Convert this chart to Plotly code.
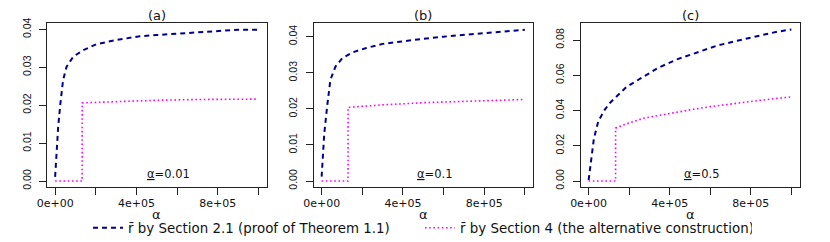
import plotly.graph_objects as go
from plotly.subplots import make_subplots

panel_titles = ["(a)", "(b)", "(c)"]
alpha_levels = ["0.01", "0.1", "0.5"]
series_names = ["r\u0304 by Section 2.1 (proof of Theorem 1.1)",
                "r\u0304 by Section 4 (the alternative construction)"]

# panel (a)
a_dash_x = [0, 7e3, 1.5e4, 2.6e4, 3.9e4, 5.6e4, 8.9e4, 1.38e5, 2.04e5, 3.02e5, 4.17e5, 5e5, 6e5, 7e5, 8e5, 9e5, 1e6]
a_dash_y = [0.0011, 0.0073, 0.0143, 0.0205, 0.0266, 0.0301, 0.0328, 0.0345, 0.0361, 0.0372, 0.0382, 0.0385, 0.0389, 0.0393, 0.0395, 0.0399, 0.0399]
a_dot_x = [0, 1.33e5, 1.33e5, 3e5, 5e5, 7e5, 1e6]
a_dot_y = [0, 0, 0.0206, 0.0210, 0.0213, 0.0215, 0.0216]

# panel (b)
b_dash_x = [0, 5e3, 1.3e4, 2.7e4, 4.3e4, 6.8e4, 1.01e5, 1.5e5, 2.16e5, 3e5, 4e5, 5e5, 6e5, 7e5, 8e5, 9e5, 1e6]
b_dash_y = [0.0012, 0.0058, 0.0132, 0.0206, 0.0280, 0.0317, 0.0340, 0.0356, 0.0368, 0.0380, 0.0388, 0.0394, 0.0400, 0.0405, 0.0409, 0.0414, 0.0419]
b_dot_x = [0, 1.3e5, 1.3e5, 3e5, 5e5, 7e5, 1e6]
b_dot_y = [0, 0, 0.0204, 0.0211, 0.0217, 0.0221, 0.0226]

# panel (c)
c_dash_x = [0, 7e3, 1.5e4, 2.6e4, 4.8e4, 8e4, 1.05e5, 1.38e5, 1.88e5, 2.62e5, 3.44e5, 4.35e5, 5.34e5, 6.33e5, 7.32e5, 8.3e5, 9.29e5, 1e6]
c_dash_y = [0.0005, 0.0065, 0.0140, 0.0240, 0.0340, 0.0405, 0.0443, 0.0480, 0.0535, 0.0586, 0.0643, 0.0690, 0.0730, 0.0768, 0.0796, 0.0823, 0.0847, 0.0860]
c_dot_x = [0, 1.33e5, 1.33e5, 1.71e5, 2.7e5, 3.52e5, 4.35e5, 5.17e5, 6e5, 6.82e5, 7.64e5, 8.47e5, 9.29e5, 1e6]
c_dot_y = [0, 0, 0.0300, 0.0318, 0.0356, 0.0374, 0.0390, 0.0407, 0.0422, 0.0435, 0.0446, 0.0458, 0.0469, 0.0477]

x_tickvals = [0, 2e5, 4e5, 6e5, 8e5, 1e6]
x_ticktext = ["0e+00", "", "4e+05", "", "8e+05", ""]
y_tickvals = [[0, 0.01, 0.02, 0.03, 0.04], [0, 0.01, 0.02, 0.03, 0.04], [0, 0.02, 0.04, 0.06, 0.08]]
y_ranges = [[-0.00145, 0.0416], [-0.00152, 0.0437], [-0.00312, 0.0895]]

dash_x = [a_dash_x, b_dash_x, c_dash_x]
dash_y = [a_dash_y, b_dash_y, c_dash_y]
dot_x = [a_dot_x, b_dot_x, c_dot_x]
dot_y = [a_dot_y, b_dot_y, c_dot_y]

W, H = 830, 242
x_domains = [[47 / W, 266.5 / W], [313.5 / W, 533 / W], [580.5 / W, 799.5 / W]]
y_domain = [1 - 186.5 / H, 1 - 23.3 / H]

navy = "#00008B"
magenta = "#FF00FF"
FONT = "DejaVu Sans"

fig = make_subplots(rows=1, cols=3)

for i in range(3):
    fig.add_trace(go.Scatter(x=dash_x[i], y=dash_y[i], mode="lines",
                             line=dict(color=navy, width=2, dash="5px,4px"),
                             name=series_names[0], showlegend=(i == 0),
                             legendgroup="s1"), row=1, col=i + 1)
    fig.add_trace(go.Scatter(x=dot_x[i], y=dot_y[i], mode="lines",
                             line=dict(color=magenta, width=1.6, dash="1.6px,2.6px"),
                             name=series_names[1], showlegend=(i == 0),
                             legendgroup="s2"), row=1, col=i + 1)

axis_common = dict(showline=True, mirror=True, linecolor="#222", linewidth=1,
                   ticks="outside", ticklen=7, tickcolor="#222", tickwidth=1,
                   showgrid=False, zeroline=False, automargin=False)

annotations = []
for i in range(3):
    xa = "xaxis" if i == 0 else f"xaxis{i + 1}"
    ya = "yaxis" if i == 0 else f"yaxis{i + 1}"
    fig.layout[xa].update(domain=x_domains[i], range=[-4e4, 1.04e6],
                          tickvals=x_tickvals, ticktext=x_ticktext,
                          tickfont=dict(family=FONT, size=11, color="#111"),
                          ticklabelstandoff=-1,
                          **axis_common)
    fig.layout[ya].update(domain=y_domain, range=y_ranges[i],
                          tickvals=y_tickvals[i], tickformat=".2f", tickangle=-90,
                          tickfont=dict(family="Liberation Sans", size=10.5, color="#111"),
                          ticklabelstandoff=4,
                          **axis_common)
    xr = "x" if i == 0 else f"x{i + 1}"
    # panel title
    annotations.append(dict(text=panel_titles[i], xref=f"{xr} domain", yref="paper",
                            x=0.5, y=1 - 15 / H, xanchor="center", yanchor="middle",
                            showarrow=False, font=dict(family=FONT, size=13, color="#111")))
    # x-axis label
    annotations.append(dict(text="\u03b1", xref=f"{xr} domain", yref="paper",
                            x=0.5, y=1 - 214.5 / H, xanchor="center", yanchor="middle",
                            showarrow=False, font=dict(family=FONT, size=13, color="#111")))
    # alpha level
    annotations.append(dict(text="<u>\u03b1</u>=" + alpha_levels[i], xref=xr,
                            yref=f"y{'' if i == 0 else i + 1} domain",
                            x=5.58e5, y=0.077, xanchor="center", yanchor="middle",
                            showarrow=False, font=dict(family=FONT, size=11.5, color="#111")))

fig.update_layout(
    width=W, height=H, margin=dict(l=0, r=0, t=0, b=0, autoexpand=False),
    paper_bgcolor="white", plot_bgcolor="white",
    annotations=annotations,
    showlegend=True,
    legend=dict(orientation="h", x=88 / W, xanchor="left", y=1 - 228 / H, yanchor="middle",
                font=dict(family=FONT, size=13.4, color="#111"),
                bgcolor="rgba(0,0,0,0)", entrywidth=287, entrywidthmode="pixels",
                tracegroupgap=0),
)

fig.write_html("out.html", config={"displayModeBar": False},
               post_script="document.body.style.margin='0';document.body.style.overflow='hidden';")
